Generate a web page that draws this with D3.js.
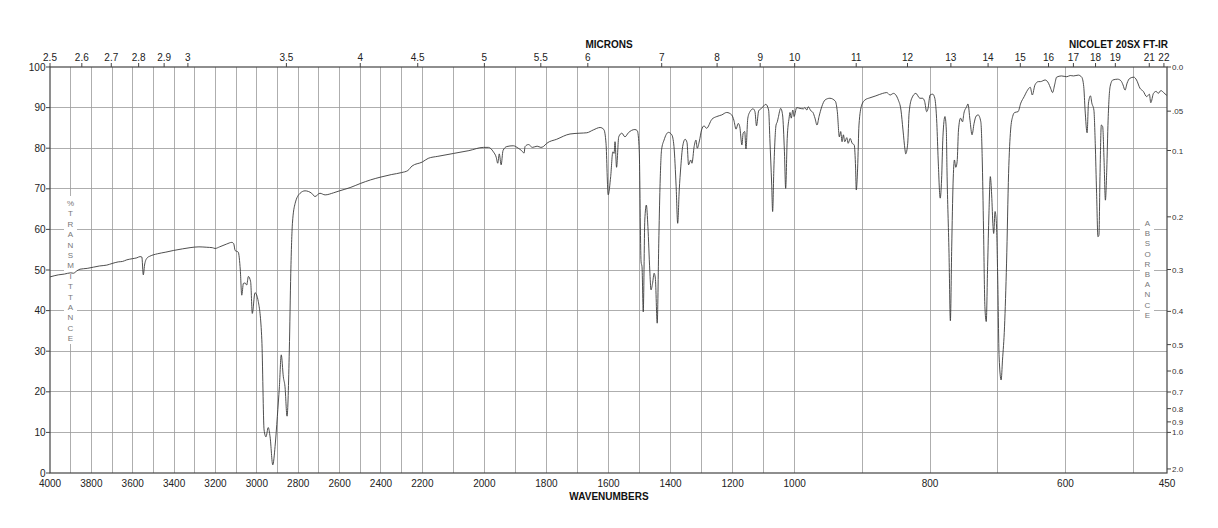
<!DOCTYPE html>
<html>
<head>
<meta charset="utf-8">
<script src="https://cdn.jsdelivr.net/npm/d3@7"></script>
<style>
  body { margin: 0; background: #fff; }
  svg { display: block; font-family: "Liberation Sans", Arial, Helvetica, sans-serif; }
  .grid line { stroke: #9a9a9a; stroke-width: 0.8; shape-rendering: crispEdges; }
  .frame { fill: none; stroke: #444; stroke-width: 1.2; }
  .tick-label { font-size: 10px; fill: #222; }
  .abs-label { font-size: 8px; fill: #333; }
  .title { font-size: 10px; font-weight: bold; fill: #111; }
  .side-letter { font-size: 8px; fill: #777; }
</style>
</head>
<body>
<svg id="chart" width="1218" height="528"></svg>
<script>
// spectrum (cm-1 / %T)
var wavenumbers = [
  4000, 3960, 3930, 3900, 3887, 3870, 3855, 3820, 3790, 3760, 3726, 3700, 3670, 3650, 3629, 3600,
  3580, 3565, 3556, 3549, 3542, 3530, 3517, 3480, 3440, 3404, 3360, 3323, 3280, 3242, 3215, 3202,
  3180, 3146, 3121, 3112, 3105, 3090, 3080, 3073, 3065, 3057, 3049, 3041, 3030, 3022, 3009, 2993,
  2976, 2965, 2956, 2945, 2936, 2923, 2912, 2901, 2891, 2882, 2872, 2864, 2854, 2843, 2836, 2828,
  2815, 2791, 2767, 2735, 2719, 2695, 2670, 2630, 2600, 2549, 2500, 2450, 2400, 2350, 2300, 2270,
  2250, 2200, 2181, 2150, 2100, 2050, 2003, 1987, 1971, 1962, 1957, 1952, 1946, 1940, 1928, 1907,
  1891, 1880, 1872, 1869, 1858, 1845, 1830, 1818, 1810, 1799, 1767, 1724, 1692, 1670, 1649, 1627,
  1615, 1608, 1601, 1593, 1586, 1582, 1579, 1574, 1567, 1557, 1547, 1536, 1515, 1507, 1501, 1495,
  1492, 1488, 1483, 1478, 1473, 1467, 1463, 1458, 1453, 1449, 1443, 1438, 1434, 1429, 1421, 1407,
  1396, 1389, 1382, 1377, 1372, 1367, 1361, 1353, 1347, 1342, 1335, 1331, 1324, 1318, 1314, 1307,
  1300, 1292, 1284, 1267, 1251, 1235, 1219, 1203, 1196, 1189, 1182, 1177, 1170, 1166, 1161, 1157,
  1151, 1144, 1134, 1128, 1123, 1116, 1107, 1093, 1084, 1080, 1074, 1071, 1067, 1060, 1056, 1053,
  1045, 1039, 1033, 1029, 1024, 1018, 1015, 1011, 1006, 1002, 997, 992, 987, 985, 982, 980,
  976, 973, 970, 967, 964, 960, 955, 948, 940, 937, 934, 932, 930, 928, 926, 923,
  921, 918, 915, 912, 910, 909, 907, 905, 901, 896, 889, 880, 870, 864, 859, 854,
  847, 843, 840, 837, 836, 833, 831, 827, 821, 815, 811, 808, 805, 803, 800, 796,
  793, 790, 788, 785, 783, 781, 778, 776, 775, 772, 770, 768, 766, 764, 762, 760,
  758, 755, 752, 750, 746, 744, 741, 738, 735, 732, 729, 725, 723, 721, 719, 717,
  715, 713, 711, 709, 707, 706, 704, 702, 700, 698, 695, 693, 690, 687, 684, 681,
  678, 675, 670, 666, 661, 656, 652, 649, 645, 640, 637, 630, 625, 622, 619, 616,
  613, 606, 598, 593, 588, 581, 576, 573, 571, 568, 566, 563, 561, 558, 556, 554,
  552, 550.5, 549, 547, 545, 543, 541, 539, 537, 534, 530, 523, 518, 515, 512, 509,
  505, 499, 495, 490, 485, 480, 476, 474, 470, 466, 463, 459, 455, 451, 450
];
var transmittance = [
  48.3, 48.8, 49.0, 49.3, 49.2, 49.8, 50.2, 50.4, 50.7, 51.0, 51.2, 51.6, 52.0, 52.1, 52.5, 52.8,
  53.0, 53.3, 53.2, 48.8, 51.5, 53.0, 53.4, 54.0, 54.4, 54.8, 55.2, 55.5, 55.7, 55.6, 55.5, 55.3,
  55.7, 56.4, 56.8, 56.5, 54.8, 54.4, 50.0, 43.8, 46.7, 46.8, 46.3, 48.4, 47.1, 39.3, 44.4, 42.2,
  32.8, 10.6, 8.9, 11.2, 8.9, 2.0, 6.5, 13.9, 21.3, 29.1, 23.7, 21.3, 14.0, 30.3, 49.2, 61.5,
  66.4, 68.9, 69.5, 68.9, 68.1, 68.9, 68.5, 69.0, 69.5, 70.3, 71.3, 72.2, 72.9, 73.5, 74.0, 74.5,
  75.6, 76.6, 77.5, 78.0, 78.7, 79.4, 80.2, 80.2, 79.1, 77.8, 76.3, 78.6, 75.9, 79.4, 80.4, 80.6,
  80.0, 79.4, 78.8, 80.4, 80.9, 80.2, 80.5, 80.2, 80.4, 81.2, 82.2, 83.5, 83.7, 83.8, 84.5, 85.1,
  84.6, 81.2, 68.5, 73.0, 79.1, 78.7, 81.6, 75.3, 82.8, 83.7, 82.8, 83.8, 84.6, 84.3, 79.6, 52.0,
  50.8, 39.7, 62.3, 66.0, 60.7, 50.0, 45.1, 46.7, 49.2, 48.0, 36.9, 56.6, 70.5, 79.6, 82.0, 83.9,
  83.3, 80.4, 70.5, 61.5, 69.7, 75.4, 80.4, 82.2, 81.4, 75.9, 77.1, 76.3, 80.4, 82.0, 80.0, 81.8,
  84.5, 85.5, 84.9, 87.1, 87.8, 88.2, 88.8, 88.2, 86.9, 84.7, 86.1, 85.3, 80.8, 83.7, 84.1, 79.8,
  87.4, 89.0, 89.7, 89.0, 85.5, 89.2, 89.8, 90.8, 89.4, 82.4, 70.9, 64.4, 75.1, 85.7, 86.5, 87.5,
  89.8, 88.2, 79.1, 70.1, 82.4, 87.4, 88.8, 87.4, 89.4, 87.8, 90.0, 89.8, 89.7, 90.0, 89.4, 90.2,
  89.2, 88.8, 87.4, 85.7, 87.8, 90.2, 91.9, 92.3, 91.6, 89.0, 82.8, 84.1, 81.6, 83.3, 81.6, 82.6,
  81.2, 82.4, 81.2, 80.8, 75.1, 69.7, 75.1, 85.7, 90.6, 91.9, 92.4, 92.9, 93.5, 93.7, 93.1, 93.5,
  91.9, 89.4, 84.5, 79.6, 78.6, 81.2, 88.6, 92.3, 93.5, 92.3, 92.3, 91.5, 89.0, 89.8, 93.1, 93.3,
  92.3, 86.1, 77.1, 67.7, 72.2, 82.8, 87.8, 84.5, 74.6, 54.1, 37.5, 55.7, 71.4, 77.1, 75.3, 76.7,
  84.5, 87.4, 86.5, 88.6, 90.2, 90.9, 86.9, 83.3, 86.1, 87.9, 88.2, 86.5, 77.9, 59.9, 41.0, 37.3,
  50.8, 64.0, 73.0, 68.5, 60.7, 59.0, 64.4, 61.5, 47.5, 28.6, 22.9, 27.8, 36.0, 51.7, 73.8, 84.5,
  87.8, 88.8, 89.0, 91.1, 92.7, 94.3, 95.0, 93.1, 95.6, 96.4, 96.4, 96.8, 96.0, 94.8, 93.7, 95.6,
  97.5, 97.8, 97.6, 97.9, 97.8, 98.0, 97.5, 95.2, 89.4, 83.8, 91.1, 92.9, 91.1, 89.4, 81.2, 68.9,
  58.2, 58.6, 73.0, 85.7, 85.3, 77.1, 67.2, 74.6, 86.9, 95.2, 96.8, 97.0, 96.6, 95.6, 94.3, 96.0,
  97.2, 97.5, 96.8, 94.8, 94.0, 92.7, 93.3, 91.2, 93.5, 94.0, 93.5, 94.2, 93.7, 93.1, 93.0
];

var wavenumberTicks = [4000, 3800, 3600, 3400, 3200, 3000, 2800, 2600, 2400, 2200, 2000,
  1800, 1600, 1400, 1200, 1000, 800, 600, 450];
var micronTicks = [2.5, 2.6, 2.7, 2.8, 2.9, 3, 3.5, 4, 4.5, 5, 5.5, 6, 7, 8, 9, 10,
  11, 12, 13, 14, 15, 16, 17, 18, 19, 21, 22];
var percentTicks = [0, 10, 20, 30, 40, 50, 60, 70, 80, 90, 100];
var absorbanceTicks = [0, 0.05, 0.1, 0.2, 0.3, 0.4, 0.5, 0.6, 0.7, 0.8, 0.9, 1.0, 2.0];
var absorbanceLabels = ['0.0', '.05', '0.1', '0.2', '0.3', '0.4', '0.5', '0.6', '0.7', '0.8', '0.9', '1.0', '2.0'];

(function () {
  'use strict';

  var LEFT = 50;
  var RIGHT = 1167;
  var TOP = 67;
  var BOTTOM = 473;
  var third = (RIGHT - LEFT) / 3;

  var svg = d3.select('#chart');

  // the wavenumber axis changes scale at 2200 and 1000
  var x = d3.scaleLinear()
    .domain([4000, 2200, 1000, 450])
    .range([LEFT, LEFT + third, LEFT + 2 * third, RIGHT]);

  var y = d3.scaleLinear()
    .domain([0, 100])
    .range([BOTTOM, TOP]);

  var gridX = d3.range(3900, 999, -100).concat([900, 800, 700, 600, 500]);

  var grid = svg.append('g').attr('class', 'grid');

  grid.selectAll('.gx')
    .data(gridX)
    .enter().append('line')
    .attr('x1', function (d) { return x(d); })
    .attr('x2', function (d) { return x(d); })
    .attr('y1', TOP)
    .attr('y2', BOTTOM);

  grid.selectAll('.gy')
    .data(percentTicks.slice(1, -1))
    .enter().append('line')
    .attr('x1', LEFT)
    .attr('x2', RIGHT)
    .attr('y1', function (d) { return y(d); })
    .attr('y2', function (d) { return y(d); });

  // white bands behind the vertical side captions
  svg.append('rect')
    .attr('x', 64).attr('y', 196).attr('width', 13).attr('height', 148)
    .style('fill', '#fff');
  svg.append('rect')
    .attr('x', 1140).attr('y', 215).attr('width', 14).attr('height', 106)
    .style('fill', '#fff');

  _drawSideCaption('%TRANSMITTANCE', 70.5, 206, 10.4);
  _drawSideCaption('ABSORBANCE', 1147.5, 226, 10.2);

  // left %T axis
  var left = svg.append('g');
  left.selectAll('line')
    .data(percentTicks)
    .enter().append('line')
    .attr('x1', LEFT - 4).attr('x2', LEFT)
    .attr('y1', function (d) { return y(d); })
    .attr('y2', function (d) { return y(d); })
    .style('stroke', '#444');
  left.selectAll('text')
    .data(percentTicks)
    .enter().append('text')
    .attr('class', 'tick-label')
    .attr('x', LEFT - 4.5)
    .attr('y', function (d) { return y(d) + 3.5; })
    .attr('text-anchor', 'end')
    .text(function (d) { return d; });

  // right absorbance axis
  var right = svg.append('g');
  right.selectAll('line')
    .data(absorbanceTicks)
    .enter().append('line')
    .attr('x1', RIGHT).attr('x2', RIGHT + 4)
    .attr('y1', function (d) { return y(100 * Math.pow(10, -d)); })
    .attr('y2', function (d) { return y(100 * Math.pow(10, -d)); })
    .style('stroke', '#444');
  right.selectAll('text')
    .data(absorbanceTicks)
    .enter().append('text')
    .attr('class', 'abs-label')
    .attr('x', RIGHT + 5)
    .attr('y', function (d) { return y(100 * Math.pow(10, -d)) + 3; })
    .text(function (d, i) { return absorbanceLabels[i]; });

  // bottom wavenumber labels
  svg.append('g').selectAll('text')
    .data(wavenumberTicks)
    .enter().append('text')
    .attr('class', 'tick-label')
    .attr('x', function (d) { return x(d); })
    .attr('y', 487)
    .attr('text-anchor', 'middle')
    .text(function (d) { return d; });

  // top micron axis
  var top = svg.append('g');
  top.selectAll('line')
    .data(micronTicks)
    .enter().append('line')
    .attr('x1', function (d) { return x(10000 / d); })
    .attr('x2', function (d) { return x(10000 / d); })
    .attr('y1', TOP - 4).attr('y2', TOP)
    .style('stroke', '#444');
  top.selectAll('text')
    .data(micronTicks)
    .enter().append('text')
    .attr('class', 'tick-label')
    .attr('x', function (d) { return x(10000 / d); })
    .attr('y', 61)
    .attr('text-anchor', 'middle')
    .text(function (d) { return d; });

  svg.append('text').attr('class', 'title')
    .attr('x', 609).attr('y', 48).attr('text-anchor', 'middle')
    .text('MICRONS');
  svg.append('text').attr('class', 'title')
    .attr('x', 1168).attr('y', 48).attr('text-anchor', 'end')
    .text('NICOLET 20SX FT-IR');
  svg.append('text').attr('class', 'title')
    .attr('x', 609).attr('y', 500).attr('text-anchor', 'middle')
    .text('WAVENUMBERS');

  // spectrum trace
  var points = wavenumbers.map(function (d, i) {
    return { wn: d, t: transmittance[i] };
  });

  var line = d3.line()
    .x(function (d) { return x(d.wn); })
    .y(function (d) { return y(d.t); })
    .curve(d3.curveMonotoneX);

  svg.append('path')
    .datum(points)
    .attr('d', line)
    .style('fill', 'none')
    .style('stroke', '#3a3a3a')
    .style('stroke-width', 0.9)
    .style('stroke-linejoin', 'round');

  svg.append('rect')
    .attr('class', 'frame')
    .attr('x', LEFT).attr('y', TOP)
    .attr('width', RIGHT - LEFT).attr('height', BOTTOM - TOP);

  function _drawSideCaption(word, cx, startY, step) {
    svg.append('g').selectAll('text')
      .data(word.split(''))
      .enter().append('text')
      .attr('class', 'side-letter')
      .attr('x', cx)
      .attr('y', function (d, i) { return startY + i * step; })
      .attr('text-anchor', 'middle')
      .text(function (d) { return d; });
  }
}());
</script>
</body>
</html>
